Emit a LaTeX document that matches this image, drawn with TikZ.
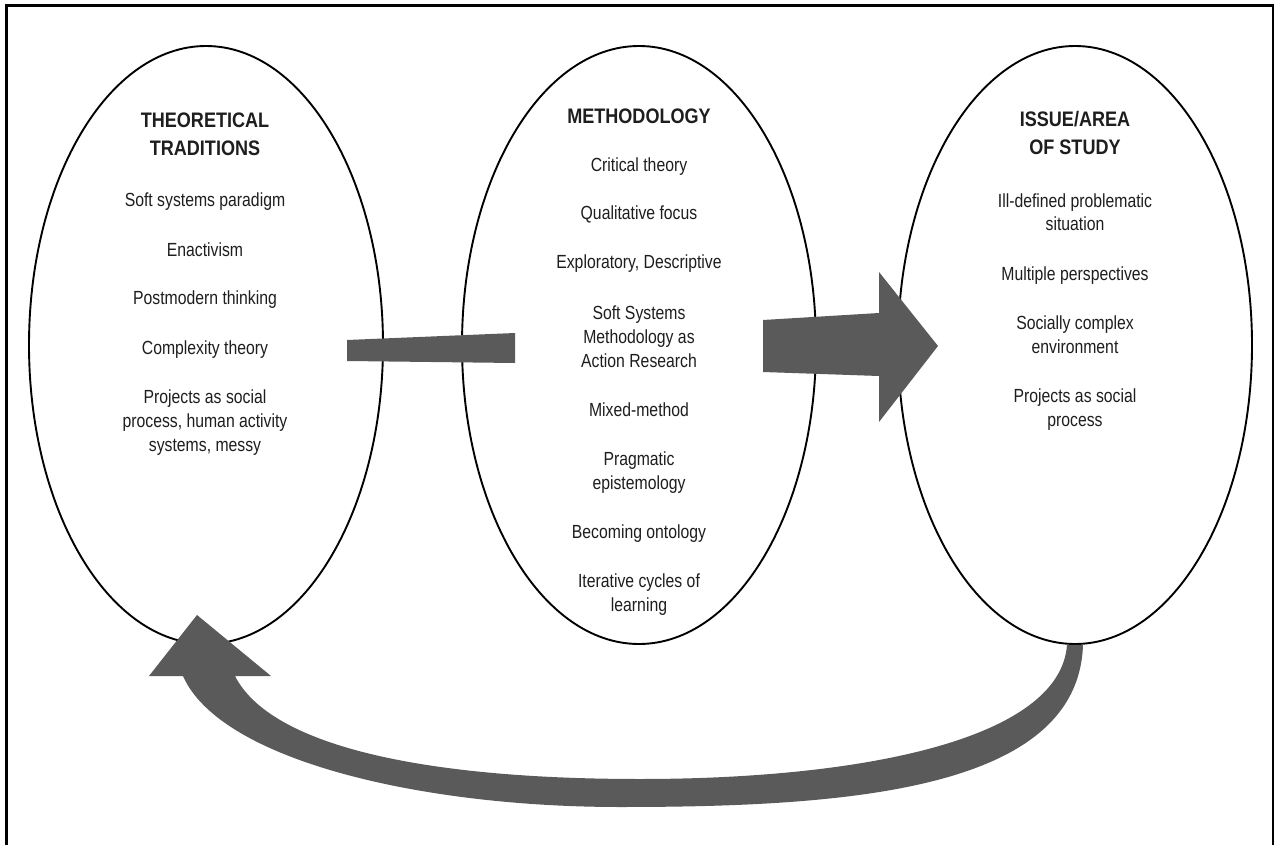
\documentclass[tikz,border=0pt]{standalone}
\usepackage{fontspec}
\setmainfont{Liberation Sans}
\newfontfamily\bodyfont[FakeStretch=0.83]{Liberation Sans}
\newfontfamily\headfont[FakeStretch=0.86]{Liberation Sans}
\usetikzlibrary{shapes.geometric}
\definecolor{arrowgray}{HTML}{5A5A5A}
\definecolor{txt}{HTML}{1E1E1E}
\begin{document}
\begin{tikzpicture}[x=1pt,y=-1pt,
  ell/.style={ellipse,draw=black,line width=1.9pt,minimum width=354pt,minimum height=598pt,inner sep=0pt},
  headtxt/.style={anchor=base,align=center,text=txt,inner sep=0pt,font={\headfont\bfseries\fontsize{21}{28}\selectfont}},
  itemtxt/.style={anchor=base,align=center,text=txt,inner sep=0pt,font={\bodyfont\fontsize{19}{24}\selectfont}},
  shapefill/.style={fill=arrowgray,draw=none},
  frameline/.style={line width=2.2pt,draw=black}]
\useasboundingbox (0,0) rectangle (1280,845);
\fill[white] (0,0) rectangle (1280,845);
\draw[frameline] (6.5,850) -- (6.5,5.5) -- (1272.7,5.5) -- (1272.7,850);
% ellipses
\node[ell] (theo) at (206,345) {};
\node[ell] (meth) at (639,345) {};
\node[ell] (issue) at (1075,345) {};
% straight bar from theory to methodology
\fill[shapefill] (347,340) -- (515,333) -- (515,363) -- (347,361) -- cycle;
% big arrow from methodology to issue
\fill[shapefill] (763,320) -- (879,313) -- (879,272) -- (938,346) -- (879,422) -- (879,376) -- (763,372) -- cycle;
% curved return arrow
\coordinate (cstart) at (issue.south);
\fill[shapefill] ([xshift=8pt]cstart) .. controls (1078,790) and (850,807) .. (620,807)
  .. controls (420,807) and (220,760) .. (183,676)
  -- (149,676) -- (197,615) -- (271,676) -- (235,676)
  .. controls (270,745) and (420,779) .. (640,779)
  .. controls (860,779) and (1060,740) .. ([xshift=-8pt]cstart) -- cycle;
% texts (anchor base = baseline of the last line)
% theoretical traditions
\node[headtxt] (th0) at (205,156) {THEORETICAL\\TRADITIONS};
\node[itemtxt] (th1) at (205,207) {Soft systems paradigm};
\node[itemtxt] (th2) at (205,256) {Enactivism};
\node[itemtxt] (th3) at (205,305) {Postmodern thinking};
\node[itemtxt] (th4) at (205,354) {Complexity theory};
\node[itemtxt] (th5) at (205,451) {Projects as social\\process, human activity\\systems, messy};
% methodology
\node[headtxt] (me0) at (639,124) {METHODOLOGY};
\node[itemtxt] (me1) at (639,172) {Critical theory};
\node[itemtxt] (me2) at (639,220) {Qualitative focus};
\node[itemtxt] (me3) at (639,269) {Exploratory, Descriptive};
\node[itemtxt] (me4) at (639,367) {Soft Systems\\Methodology as\\Action Research};
\node[itemtxt] (me5) at (639,416) {Mixed-method};
\node[itemtxt] (me6) at (639,489) {Pragmatic\\epistemology};
\node[itemtxt] (me7) at (639,538) {Becoming ontology};
\node[itemtxt] (me8) at (639,611) {Iterative cycles of\\learning};
% issue / area of study
\node[headtxt] (is0) at (1075,155) {ISSUE/AREA\\OF STUDY};
\node[itemtxt] (is1) at (1075,231) {Ill-defined problematic\\situation};
\node[itemtxt] (is2) at (1075,280) {Multiple perspectives};
\node[itemtxt] (is3) at (1075,353) {Socially complex\\environment};
\node[itemtxt] (is4) at (1075,426) {Projects as social\\process};
\end{tikzpicture}
\end{document}
